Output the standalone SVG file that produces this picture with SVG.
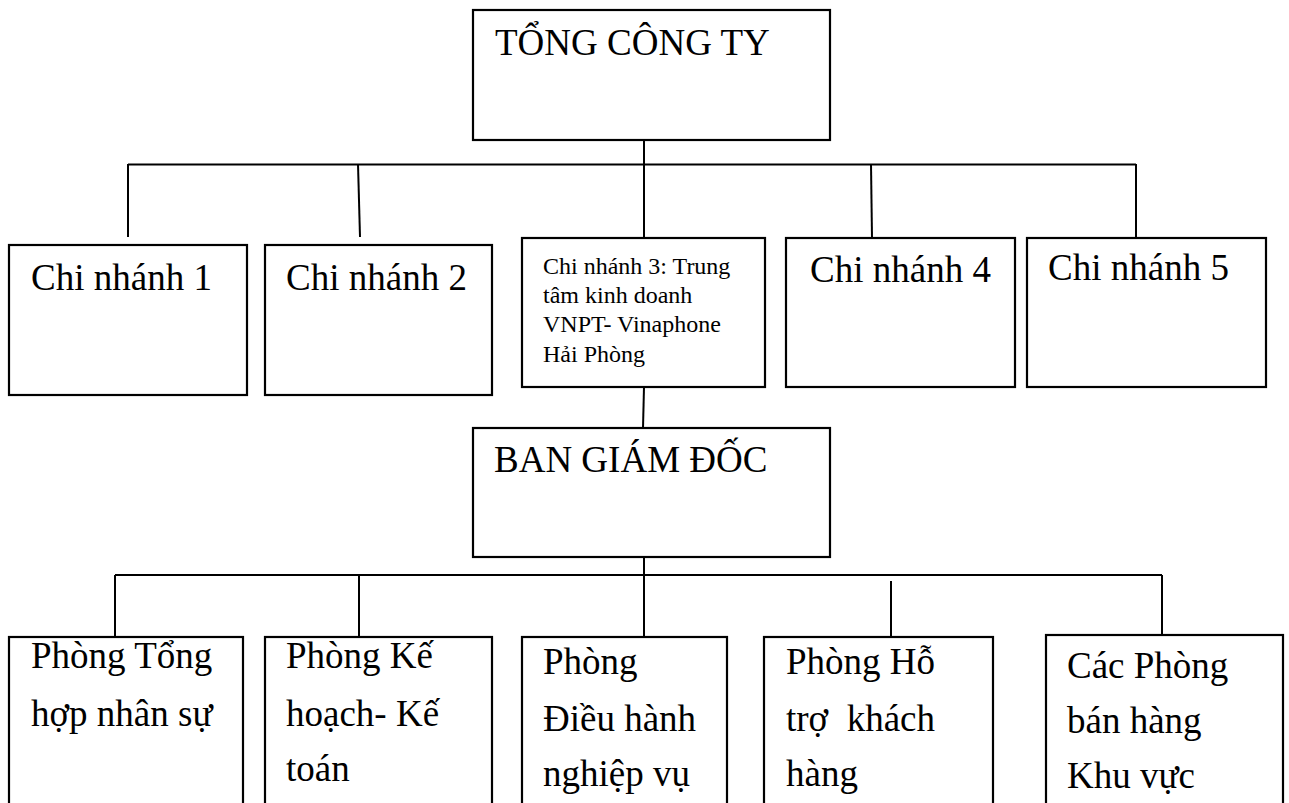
<svg xmlns="http://www.w3.org/2000/svg" width="1289" height="803" viewBox="0 0 1289 803">
<style>
.box{fill:#fff;stroke:#000;stroke-width:2.2}
.ln{stroke:#000;stroke-width:2;fill:none}
.t{font-family:"Liberation Serif","Times New Roman",serif;font-size:37px;fill:#000}
.s{font-family:"Liberation Serif","Times New Roman",serif;font-size:24px;fill:#000}
</style>
<rect width="1289" height="803" fill="#fff"/>
<g id="connectors">
<line class="ln" x1="644" y1="140" x2="644" y2="165"/>
<line class="ln" x1="128" y1="164.5" x2="1136" y2="164.5"/>
<line class="ln" x1="128" y1="164" x2="128" y2="237"/>
<line class="ln" x1="358" y1="164" x2="360" y2="237"/>
<line class="ln" x1="644" y1="164" x2="644" y2="238"/>
<line class="ln" x1="871" y1="164" x2="872" y2="238"/>
<line class="ln" x1="1136" y1="164" x2="1136" y2="238"/>
<line class="ln" x1="644" y1="387" x2="643" y2="428"/>
<line class="ln" x1="644" y1="557" x2="644" y2="576"/>
<line class="ln" x1="115" y1="575" x2="1162" y2="575"/>
<line class="ln" x1="115" y1="575" x2="115" y2="637"/>
<line class="ln" x1="359" y1="575" x2="359" y2="637"/>
<line class="ln" x1="644" y1="575" x2="644" y2="637"/>
<line class="ln" x1="891" y1="581" x2="891" y2="642"/>
<line class="ln" x1="1162" y1="575" x2="1162" y2="635"/>
</g>
<g id="tong-cong-ty">
<rect class="box" x="473" y="10" width="357" height="130"/>
<text class="t" x="495" y="55">TỔNG CÔNG TY</text>
</g>
<g id="chi-nhanh-1">
<rect class="box" x="9" y="245" width="238" height="150"/>
<text class="t" x="31" y="290">Chi nhánh 1</text>
</g>
<g id="chi-nhanh-2">
<rect class="box" x="265" y="245" width="227" height="150"/>
<text class="t" x="286" y="290">Chi nhánh 2</text>
</g>
<g id="chi-nhanh-3">
<rect class="box" x="522" y="238" width="243" height="149"/>
<text class="s" x="543" y="274">Chi nhánh 3: Trung</text>
<text class="s" x="543" y="303">tâm kinh doanh</text>
<text class="s" x="543" y="332">VNPT- Vinaphone</text>
<text class="s" x="543" y="362">Hải Phòng</text>
</g>
<g id="chi-nhanh-4">
<rect class="box" x="786" y="238" width="229" height="149"/>
<text class="t" x="810" y="282">Chi nhánh 4</text>
</g>
<g id="chi-nhanh-5">
<rect class="box" x="1027" y="238" width="239" height="149"/>
<text class="t" x="1048" y="280">Chi nhánh 5</text>
</g>
<g id="ban-giam-doc">
<rect class="box" x="473" y="428" width="357" height="129"/>
<text class="t" x="494" y="472">BAN GIÁM ĐỐC</text>
</g>
<g id="phong-tong-hop">
<rect class="box" x="9" y="637" width="234" height="180"/>
<text class="t" x="31" y="668">Phòng Tổng</text>
<text class="t" x="31" y="726">hợp nhân sự</text>
</g>
<g id="phong-ke-hoach">
<rect class="box" x="265" y="637" width="227" height="180"/>
<text class="t" x="286" y="668">Phòng Kế</text>
<text class="t" x="286" y="726">hoạch- Kế</text>
<text class="t" x="286" y="781">toán</text>
</g>
<g id="phong-dieu-hanh">
<rect class="box" x="522" y="637" width="205" height="180"/>
<text class="t" x="543" y="674">Phòng</text>
<text class="t" x="543" y="731">Điều hành</text>
<text class="t" x="543" y="786">nghiệp vụ</text>
</g>
<g id="phong-ho-tro">
<rect class="box" x="764" y="637" width="229" height="180"/>
<text class="t" x="786" y="674">Phòng Hỗ</text>
<text class="t" x="786" y="731">trợ&#160; khách</text>
<text class="t" x="786" y="786">hàng</text>
</g>
<g id="phong-ban-hang">
<rect class="box" x="1046" y="635" width="237" height="180"/>
<text class="t" x="1067" y="678">Các Phòng</text>
<text class="t" x="1067" y="733">bán hàng</text>
<text class="t" x="1067" y="788">Khu vực</text>
</g>
</svg>
